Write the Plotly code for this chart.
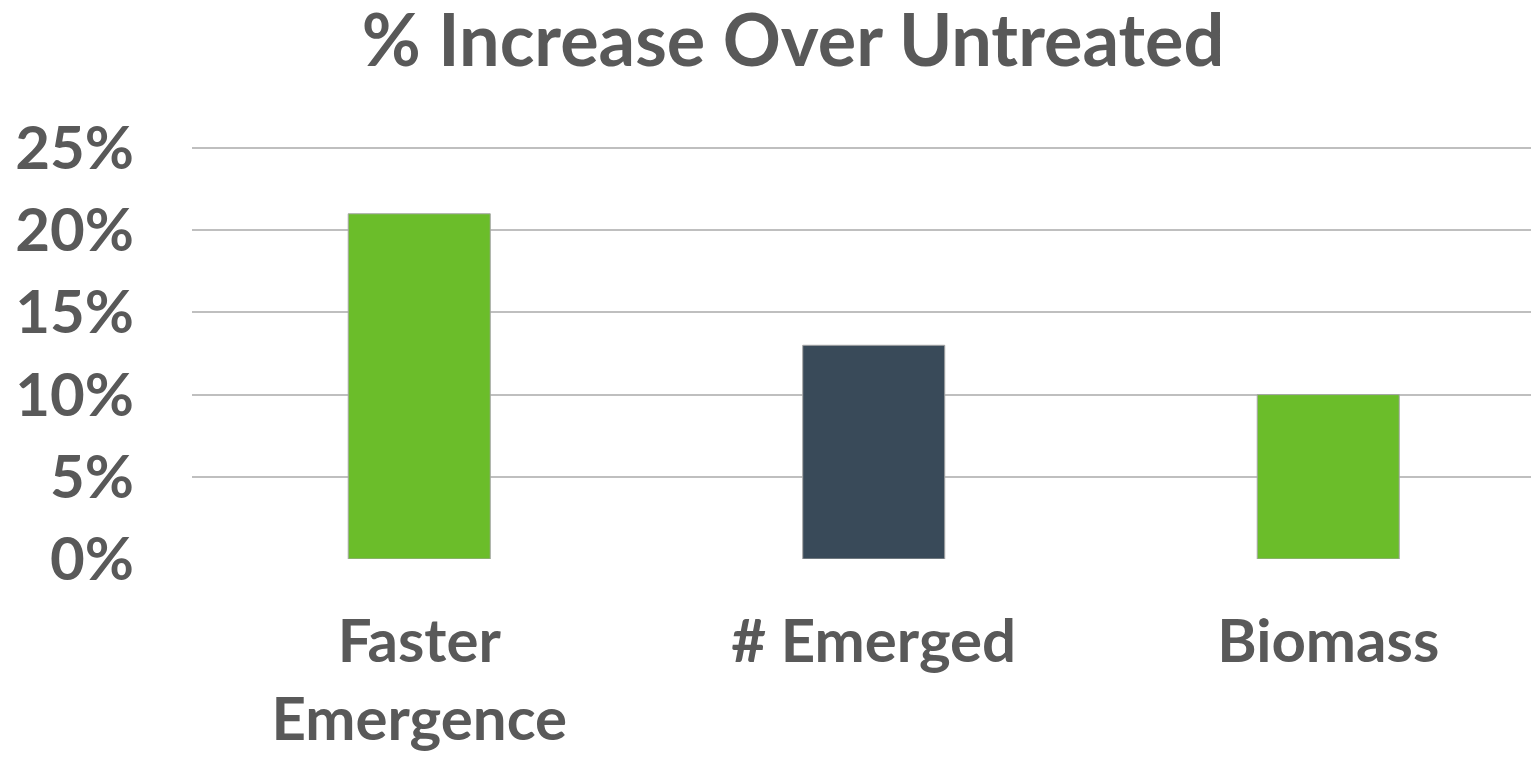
import plotly.graph_objects as go

categories = ["Faster<br>Emergence", "# Emerged", "Biomass"]
values = [0.21, 0.13, 0.10]
bar_colors = ["#6BBD2A", "#394A59", "#6BBD2A"]
y_ticks = [0, 0.05, 0.10, 0.15, 0.20, 0.25]

TXT = "#595959"
FONT = "Lato"

fig = go.Figure(go.Bar(
    x=list(range(len(categories))),
    y=values,
    marker=dict(color=bar_colors, line=dict(color="#A6A6A6", width=1)),
    width=0.3125,
))

fig.update_layout(
    width=1531, height=749,
    margin=dict(l=184, r=0, t=133, b=198, autoexpand=False),
    paper_bgcolor="white", plot_bgcolor="white",
    showlegend=False,
    title=dict(text="% Increase Over Untreated", x=785/1531, xref="container",
               xanchor="center", y=1-33/749, yref="container", yanchor="middle",
               font=dict(family=FONT, size=72, color=TXT, weight="bold")),
    font=dict(family=FONT, color=TXT),
)
fig.update_xaxes(
    tickmode="array", tickvals=list(range(len(categories))),
    ticktext=categories,
    range=[-0.5, 2.4637], showgrid=False, zeroline=False, showline=False,
    tickfont=dict(family=FONT, size=60, color=TXT, weight="bold"), ticks="", ticklabelstandoff=42,
)
fig.update_yaxes(
    range=[0, 0.25426], tickvals=y_ticks, tickformat=".0%",
    showgrid=True, gridcolor="#BFBFBF", gridwidth=2, zeroline=False, showline=False,
    tickfont=dict(family=FONT, size=60, color=TXT, weight="bold"), ticks="", ticklabelstandoff=57,
)
fig.write_html("out.html")
